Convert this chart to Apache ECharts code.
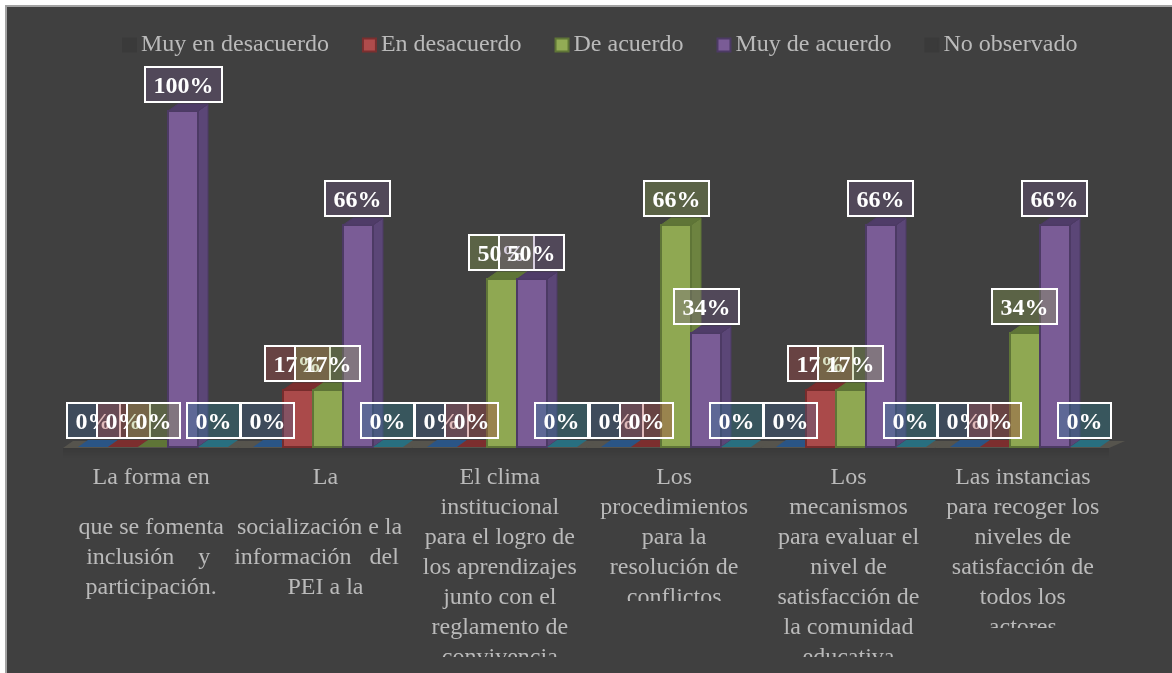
<!DOCTYPE html>
<html><head><meta charset="utf-8">
<style>
html,body{margin:0;padding:0;background:#fff;width:1172px;height:673px;overflow:hidden}
#frame{position:absolute;left:5px;top:5px;right:0;bottom:0;background:#404040;border-left:2px solid #a3a3a3;border-top:2px solid #a3a3a3}
#chart{position:absolute;left:0;top:0;width:1172px;height:673px}
</style>
<script src="https://cdn.jsdelivr.net/npm/echarts@6/dist/echarts.min.js"></script>
</head><body><div id="frame"></div><div id="chart"></div>
<script>
const categories = [
  "La forma en\n\nque se fomenta\ninclusión\u00a0\u00a0\u00a0\u00a0y\u00a0\nparticipación.",
  "La\n\nsocialización e la\u00a0\u00a0\ninformación\u00a0\u00a0\u00a0del\u00a0\u00a0\u00a0\nPEI a la",
  "El clima\ninstitucional\npara el logro de\nlos aprendizajes\njunto con el\nreglamento de\nconvivencia",
  "Los\nprocedimientos\npara la\nresolución de\nconflictos",
  "Los\nmecanismos\npara evaluar el\nnivel de\nsatisfacción de\nla comunidad\neducativa",
  "Las instancias\npara recoger los\nniveles de\nsatisfacción de\ntodos los\nactores"
];
const muyEnDesacuerdo = [0, 0, 0, 0, 0, 0];
const enDesacuerdo    = [0, 17, 0, 0, 17, 0];
const deAcuerdo       = [0, 17, 50, 66, 17, 34];
const muyDeAcuerdo    = [100, 66, 50, 34, 66, 66];
const noObservado     = [0, 0, 0, 0, 0, 0];
const seriesNames = ["Muy en desacuerdo", "En desacuerdo", "De acuerdo", "Muy de acuerdo", "No observado"];
const seriesValues = [muyEnDesacuerdo, enDesacuerdo, deAcuerdo, muyDeAcuerdo, noObservado];

const palette = [
  {front:'#2f5f94', side:'#28507c', top:'#2a5586', edge:'#24466c', label:'rgba(58,100,150,0.32)', legend:'#3a3a3a', legendEdge:'#3a3a3a'},
  {front:'#aa4a4a', side:'#80302f', top:'#7c2e2e', edge:'#772c2c', label:'rgba(170,74,74,0.38)', legend:'#b04c4c', legendEdge:'#7a2f2f'},
  {front:'#8fa852', side:'#6d8340', top:'#5f7537', edge:'#5f7537', label:'rgba(143,168,82,0.34)', legend:'#92ab55', legendEdge:'#5f7537'},
  {front:'#7a5c96', side:'#5b4677', top:'#4f3c68', edge:'#4c3a64', label:'rgba(122,92,150,0.30)', legend:'#7a5c96', legendEdge:'#4c3a64'},
  {front:'#2a7a8c', side:'#246a7a', top:'#286f80', edge:'#205f6e', label:'rgba(42,128,150,0.34)', legend:'#3a3a3a', legendEdge:'#3a3a3a'}
];
const labelClipBottom = [640, 640, 657, 601, 657, 628];
const BAR = 30, DX = 10, DY = 7;

function barItem(si){
  return function(params, api){
    const i = api.value(0), v = api.value(1);
    const base = api.coord([i, 0]), topP = api.coord([i, v]);
    const x = Math.round(base[0] + (si - 2.5) * BAR), y = Math.round(topP[1]), b = Math.round(base[1]);
    const p = palette[si];
    const kids = [];
    if (v > 0) {
      kids.push({type:'polygon', shape:{points:[[x+BAR,y],[x+BAR+DX,y-DY],[x+BAR+DX,b-DY],[x+BAR,b]]}, style:{fill:p.side, stroke:p.edge, lineWidth:1}});
      kids.push({type:'rect', shape:{x:x, y:y, width:BAR, height:b-y}, style:{fill:p.front, stroke:p.edge, lineWidth:2}});
    }
    kids.push({type:'polygon', shape:{points:[[x,y],[x+BAR,y],[x+BAR+DX,y-DY],[x+DX,y-DY]]}, style:{fill:p.top, stroke:p.edge, lineWidth:v>0?1:0}});
    return {type:'group', children:kids};
  };
}
function labelItem(si){
  return function(params, api){
    const i = api.value(0), v = api.value(1);
    const base = api.coord([i, 0]), topP = api.coord([i, v]);
    const cx = base[0] + (si - 2) * BAR;
    const text = v + '%';
    const w = (text.length - 1) * 12 + 24 + 17;
    const h = 35;
    const x = Math.round(cx - w / 2), y = Math.round(topP[1] - 9 - h);
    return {type:'group', children:[
      {type:'rect', shape:{x:x, y:y, width:w, height:h}, style:{fill:palette[si].label, stroke:'#ffffff', lineWidth:2}},
      {type:'text', style:{text:text, x:x + w / 2, y:y + h / 2 + 2, align:'center', verticalAlign:'middle',
        fill:'#ffffff', font:'bold 24px "Liberation Serif", serif'}}
    ]};
  };
}
function floorItem(params, api){
  const i = api.value(0);
  const base = api.coord([i, 0]);
  const w = api.size([1, 0])[0];
  const l = base[0] - w/2, r = base[0] + w/2, b = Math.round(base[1]) + 1;
  return {type:'group', children:[
    {type:'rect', shape:{x:l-3, y:b, width:w, height:10}, style:{fill:new echarts.graphic.LinearGradient(0,0,0,1,[{offset:0,color:'rgba(0,0,0,0.10)'},{offset:1,color:'rgba(0,0,0,0)'}])}},
    {type:'polygon', shape:{points:[[l-3,b],[r-3,b],[r+DX+3,b-DY],[l+DX-3,b-DY]]}, style:{fill:'#56544d'}}
  ]};
}
function catLabelItem(params, api){
  const i = api.value(0);
  const base = api.coord([i, 0]);
  const x = base[0] - 2;
  let y = base[1] + 16;
  const clipY = y;
  const kids = [];
  categories[i].split('\n').forEach(line => {
    if (line === '') { y += 20; return; }
    kids.push({type:'text', style:{text:line, x:x, y:y, align:'center', verticalAlign:'top',
      fill:'#bababa', font:'24px "Liberation Serif", serif', lineHeight:30},
      clipPath:{type:'rect', shape:{x:x-120, y:clipY, width:240, height:labelClipBottom[i] - clipY}}});
    y += 30;
  });
  return {type:'group', children:kids};
}

const idx = categories.map((_, i) => i);
const series = [
  {type:'custom', name:'Piso', silent:true, z:1, renderItem:floorItem, clip:false, data:idx.map(i=>[i,0]), encode:{x:0,y:1}},
  {type:'custom', name:'Etiquetas de eje', silent:true, z:1, renderItem:catLabelItem, clip:false, data:idx.map(i=>[i,0]), encode:{x:0,y:1}}
];
seriesNames.forEach((n, si) => {
  series.push({type:'custom', name:n, z:2+si, clip:false, renderItem:barItem(si), itemStyle:{color:palette[si].legend},
    data:seriesValues[si].map((v,i)=>[i,v]), encode:{x:0,y:1}});
});
seriesNames.forEach((n, si) => {
  series.push({type:'custom', name:n+' (etiqueta)', silent:true, z:10+si, clip:false, renderItem:labelItem(si),
    data:seriesValues[si].map((v,i)=>[i,v]).filter(d=>!(si===3 && d[1]===0)), encode:{x:0,y:1}});
});

const chart = echarts.init(document.getElementById('chart'), null, {renderer:'canvas'});
chart.setOption({
  animation:false,
  backgroundColor:'transparent',
  grid:{left:66, width:1046, top:111, height:336, containLabel:false},
  legend:{
    left:117, top:28, itemWidth:13, itemHeight:13, itemGap:33, icon:'rect', selectedMode:false,
    textStyle:{color:'#bababa', fontFamily:'"Liberation Serif", serif', fontSize:24},
    data:seriesNames.map((n,si)=>({name:n, itemStyle:{color:palette[si].legend, borderColor:palette[si].legendEdge, borderWidth:2}}))
  },
  xAxis:{type:'category', data:categories, axisLine:{show:false}, axisTick:{show:false}, axisLabel:{show:false}},
  yAxis:{type:'value', min:0, max:100, interval:20, show:false, splitLine:{show:false}},
  series:series
});
</script></body></html>
